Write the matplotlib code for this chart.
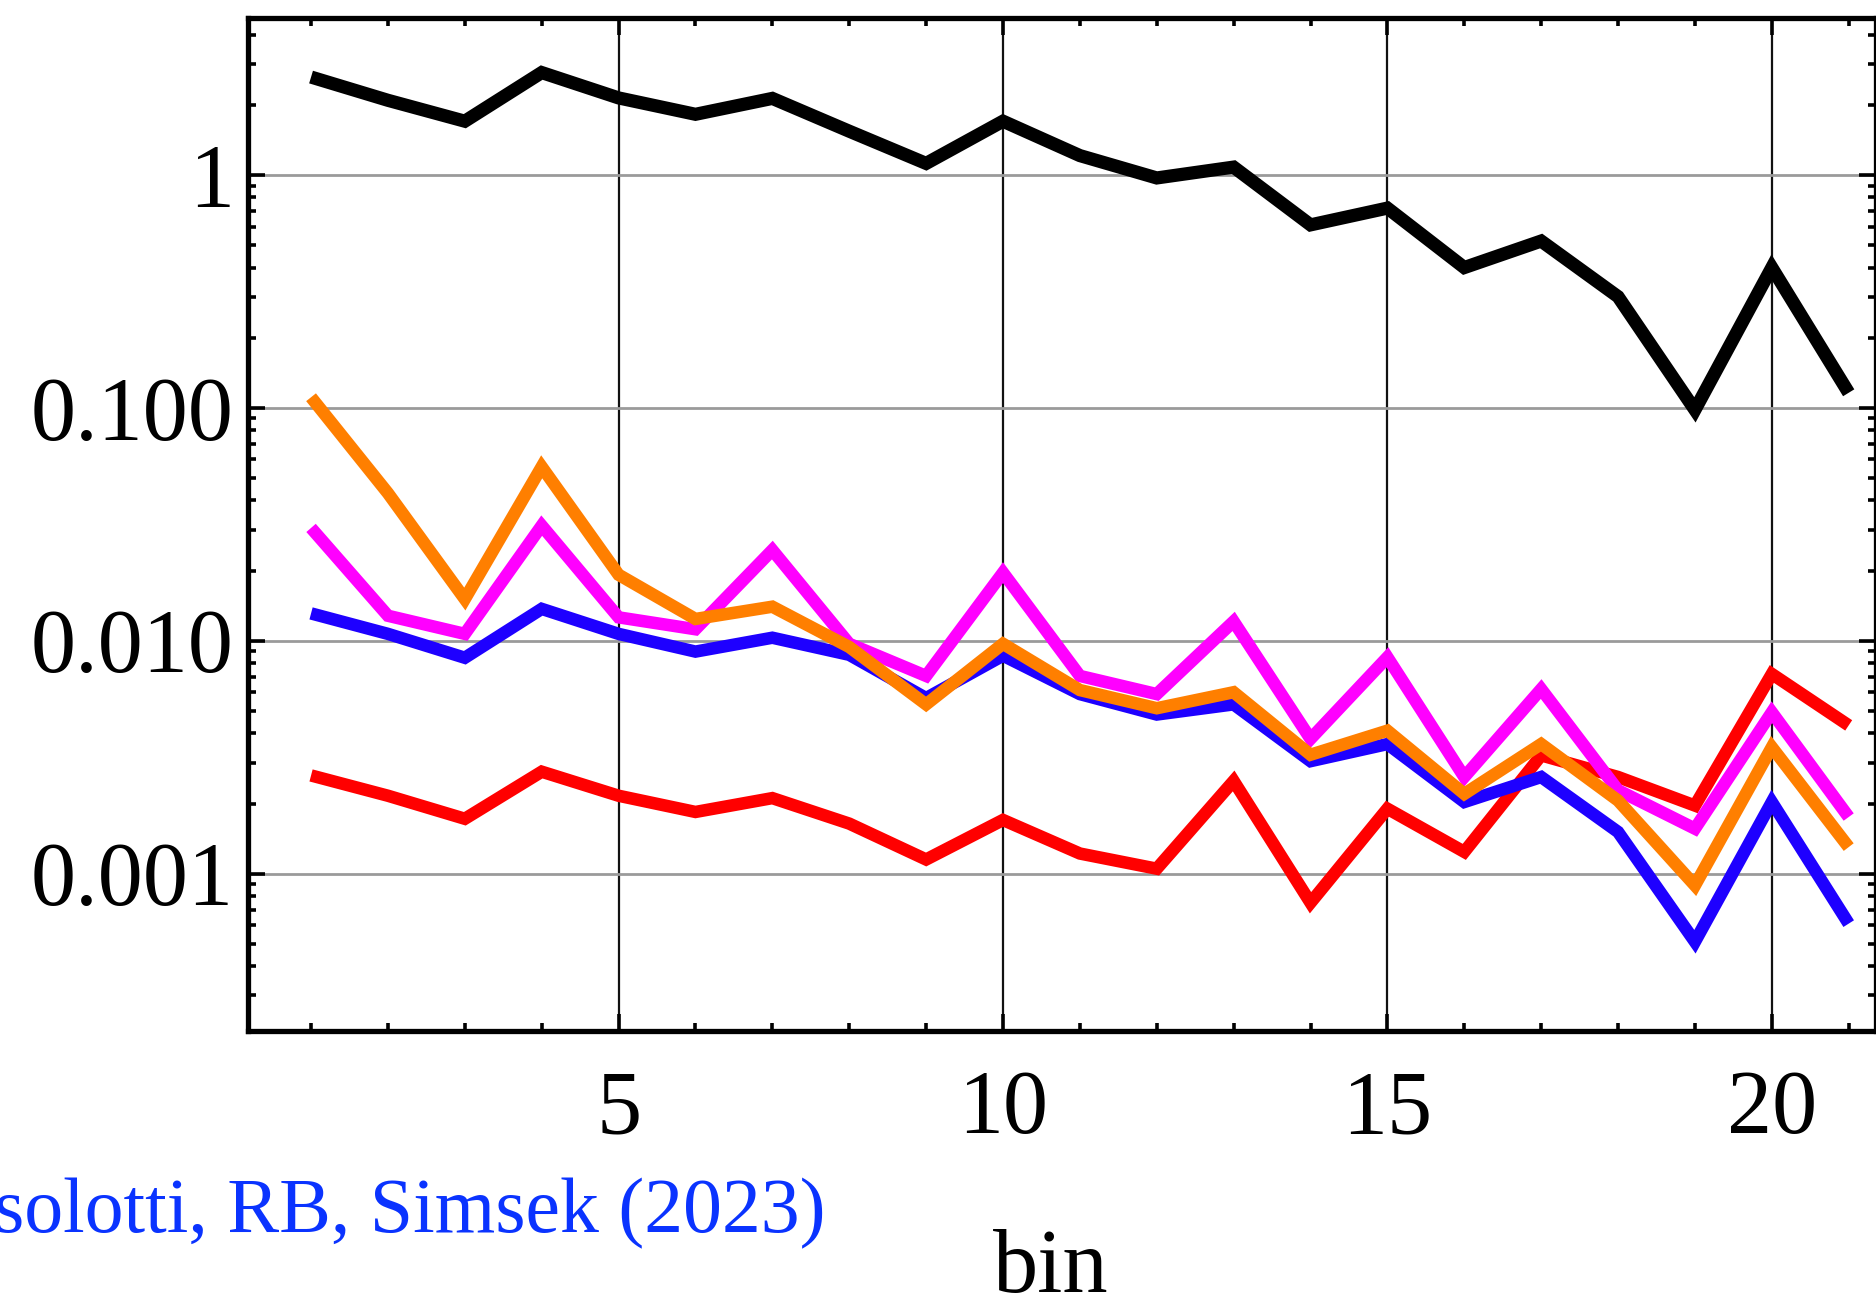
import matplotlib
matplotlib.use('Agg')
import matplotlib.pyplot as plt
from matplotlib.ticker import FixedLocator, LogLocator, NullFormatter, FixedFormatter

# bins on the x axis
bins = list(range(1, 22))

# series (log scale)
black_vals = [2.63, 2.09, 1.70, 2.75, 2.14, 1.82, 2.13, 1.54, 1.12, 1.70, 1.21,
              0.97, 1.08, 0.61, 0.72, 0.40, 0.52, 0.30, 0.098, 0.40, 0.116]
red_vals = [0.00264, 0.00216, 0.00172, 0.00274, 0.00216, 0.00184, 0.00211, 0.00164,
            0.00115, 0.0017, 0.00122, 0.00105, 0.0025, 0.00075, 0.0019, 0.00124,
            0.00322, 0.0026, 0.00196, 0.0072, 0.00433]
blue_vals = [0.0131, 0.0107, 0.00845, 0.0137, 0.0107, 0.00898, 0.0103, 0.0087,
             0.00567, 0.00863, 0.0059, 0.00482, 0.00533, 0.00304, 0.0036, 0.00203,
             0.0026, 0.00151, 0.00051, 0.00203, 0.00061]
magenta_vals = [0.0305, 0.0128, 0.0107, 0.0312, 0.0126, 0.0112, 0.0245, 0.0097,
                0.00706, 0.0196, 0.00706, 0.0059, 0.0121, 0.00379, 0.00849, 0.0026,
                0.0062, 0.00228, 0.00156, 0.00493, 0.00175]
orange_vals = [0.111, 0.043, 0.0151, 0.0558, 0.0192, 0.0124, 0.0140, 0.0094,
               0.00533, 0.0097, 0.00614, 0.00513, 0.00601, 0.00324, 0.00411, 0.0022,
               0.0036, 0.00206, 0.00089, 0.00349, 0.0013]

x_major = [5, 10, 15, 20]
y_major = [0.001, 0.01, 0.1, 1]
y_labels = ["0.001", "0.010", "0.100", "1"]

series = [
    (black_vals, "black", 9.5),
    (red_vals, "#ff0000", 9.0),
    (blue_vals, "#1e00ff", 9.0),
    (magenta_vals, "#ff00ff", 9.0),
    (orange_vals, "#ff7f00", 9.0),
]

plt.rcParams['font.family'] = ['Liberation Serif', 'DejaVu Serif']

fig = plt.figure(figsize=(18.76, 13), dpi=100)
ax = fig.add_axes([0.1322, 0.2069, 0.868, 0.779])
ax.set_yscale('log')

for vals, col, lw in series:
    ax.plot(bins, vals, color=col, lw=lw, solid_joinstyle='miter',
            solid_capstyle='butt', zorder=3)

ax.set_xlim(0.18, 21.36)
ax.set_ylim(2.11e-4, 4.70)

# grid lines like the Mathematica frame
for gx in x_major:
    ax.axvline(gx, color='#111111', lw=1.6, zorder=1)
for gy in y_major:
    ax.axhline(gy, color='#9a9a9a', lw=2.0, zorder=1)

ax.xaxis.set_major_locator(FixedLocator(x_major))
ax.xaxis.set_minor_locator(FixedLocator(bins))
ax.yaxis.set_major_locator(FixedLocator(y_major))
ax.yaxis.set_major_formatter(FixedFormatter(y_labels))
ax.yaxis.set_minor_locator(LogLocator(base=10, subs=range(2, 10)))
ax.yaxis.set_minor_formatter(NullFormatter())

ax.tick_params(which='both', direction='in', top=True, right=True, width=2.6,
               colors='black', labelsize=65)
ax.tick_params(which='major', length=12)
ax.tick_params(which='minor', length=6)
ax.tick_params(axis='y', pad=10)
ax.tick_params(axis='x', pad=28)

for sp in ax.spines.values():
    sp.set_linewidth(3.8)

fig.text(0.560, 0.006, "bin", fontsize=65, ha='center', va='baseline')
fig.text(-0.003, 0.052, "solotti, RB, Simsek (2023)", fontsize=56,
         color='#0a33ff', ha='left', va='baseline')

fig.savefig('out.png', dpi=100)
